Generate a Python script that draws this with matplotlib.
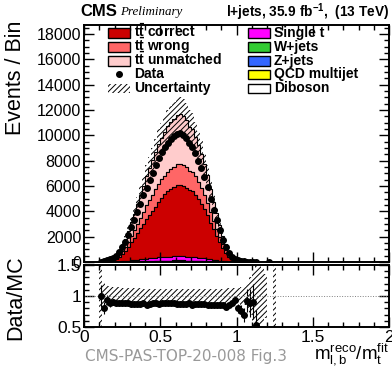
import matplotlib
matplotlib.use("Agg")
import matplotlib.pyplot as plt
import matplotlib.patches as mpatches
from matplotlib.ticker import MultipleLocator
import numpy as np

plt.rcParams['font.family'] = 'Liberation Sans'
plt.rcParams['mathtext.fontset'] = 'custom'
plt.rcParams['mathtext.rm'] = 'Liberation Sans'
plt.rcParams['mathtext.it'] = 'Liberation Sans:italic'
plt.rcParams['mathtext.bf'] = 'Liberation Sans:bold'
plt.rcParams['hatch.linewidth'] = 0.7

########
# data #
########

edges = np.round(np.arange(0.10, 1.3001, 0.02), 2)
centers = 0.5 * (edges[:-1] + edges[1:])

data = [30, 70, 130, 220, 330, 500, 780, 1150, 1600, 2150,
        2750, 3350, 3950, 4600, 5250, 5850, 6450, 7050, 7650, 8200,
        8650, 9050, 9400, 9700, 9950, 10100, 10200, 10050, 9750, 9400,
        9050, 8600, 8000, 7400, 6700, 5900, 4950, 4100, 3300, 2500,
        1750, 1150, 700, 400, 220, 120, 70, 40, 25, 15,
        10, 5, 0, 0, 0, 3, 0, 0, 0, 0]

tt_correct = [13, 38, 62, 110, 161, 247, 390, 575, 791, 1075,
              1438, 1751, 2088, 2432, 2744, 3129, 3410, 3685, 4030, 4380,
              4700, 4960, 5181, 5346, 5484, 5630, 5654, 5571, 5435, 5240,
              5201, 4943, 4598, 4253, 3851, 3430, 2878, 2384, 1930, 1462,
              988, 665, 396, 216, 112, 72, 44, 28, 13, 8,
              5, 4.5, 3, 2.5, 2, 0, 0, 1, 0, 0]

tt_wrong = [6, 16, 27, 48, 70, 107, 168, 248, 342, 430,
            530, 620, 726, 846, 955, 1088, 1186, 1282, 1360, 1420,
            1440, 1460, 1517, 1565, 1606, 1648, 1655, 1631, 1591, 1534,
            1508, 1433, 1333, 1233, 1117, 995, 835, 691, 560, 424,
            329, 222, 132, 72, 37, 24, 15, 9, 4, 3,
            2, 1.5, 1, 0.8, 0.6, 0, 0, 0.3, 0, 0]

tt_unmatched = [10, 30, 45, 83, 121, 186, 293, 433, 595, 810,
                1065, 1300, 1552, 1806, 2037, 2324, 2533, 2737, 2969, 3182,
                3288, 3440, 3572, 3686, 3780, 3883, 3900, 3842, 3749, 3500,
                3380, 3129, 2911, 2693, 2438, 2172, 1822, 1510, 1222, 925,
                663, 446, 264, 143, 76, 49, 30, 19, 9, 6,
                4, 3.4, 2, 1.7, 1.4, 0, 0, 0.7, 0, 0]

single_t = [1, 2, 4, 7, 10, 16, 25, 37, 50, 68,
            88, 107, 127, 160, 167, 190, 215, 224, 243, 261,
            275, 288, 310, 309, 317, 340, 326, 335, 314, 303,
            300, 277, 257, 238, 216, 192, 161, 133, 108, 82,
            58, 39, 23, 13, 7, 4, 3, 2, 1, 0,
            0, 0, 0, 0, 0, 0, 0, 0, 0, 0]

w_jets = [0, 0, 1, 1, 2, 3, 5, 7, 10, 14,
          18, 22, 26, 30, 35, 39, 43, 46, 50, 54,
          57, 60, 62, 64, 66, 67, 67, 66, 65, 63,
          60, 57, 53, 49, 44, 39, 33, 27, 22, 17,
          12, 8, 5, 3, 1, 1, 0, 0, 0, 0,
          0, 0, 0, 0, 0, 0, 0, 0, 0, 0]

z_jets = [0, 0, 0, 0, 1, 1, 1, 2, 3, 4,
          5, 6, 7, 9, 10, 11, 12, 13, 14, 15,
          16, 17, 18, 18, 19, 19, 19, 19, 18, 18,
          17, 16, 15, 14, 12, 11, 9, 8, 6, 5,
          3, 2, 1, 1, 0, 0, 0, 0, 0, 0,
          0, 0, 0, 0, 0, 0, 0, 0, 0, 0]

qcd = [0, 0, 1, 1, 2, 2, 3, 4, 6, 7,
       9, 10, 12, 14, 15, 18, 19, 21, 23, 25,
       26, 27, 29, 30, 30, 32, 31, 30, 30, 28,
       27, 26, 24, 22, 20, 18, 15, 12, 10, 7,
       5, 3, 2, 1, 1, 0, 0, 0, 0, 0,
       0, 0, 0, 0, 0, 0, 0, 0, 0, 0]

diboson = [0, 0, 0, 0, 0, 0, 1, 1, 1, 1,
           2, 2, 2, 2, 3, 3, 3, 3, 4, 4,
           4, 4, 4, 5, 5, 5, 5, 5, 5, 4,
           4, 4, 4, 4, 3, 3, 3, 2, 2, 2,
           1, 1, 1, 0, 0, 0, 0, 0, 0, 0,
           0, 0, 0, 0, 0, 0, 0, 0, 0, 0]

# relative MC uncertainty per bin
rel_unc = [0.6, 0.22, 0.18, 0.16, 0.15, 0.14, 0.14, 0.13, 0.13, 0.13,
           0.13, 0.125, 0.125, 0.125, 0.12, 0.12, 0.12, 0.12, 0.12, 0.12,
           0.12, 0.12, 0.12, 0.12, 0.12, 0.12, 0.12, 0.12, 0.12, 0.12,
           0.12, 0.12, 0.12, 0.12, 0.12, 0.12, 0.12, 0.12, 0.12, 0.12,
           0.12, 0.12, 0.125, 0.125, 0.13, 0.13, 0.14, 0.15, 0.2, 0.3,
           0.4, 0.5, 0.5, 0.45, 0.35, 0, 0, 1.0, 0, 0]

components = [diboson, qcd, z_jets, w_jets, single_t, tt_correct, tt_wrong, tt_unmatched]
colors = ['white', '#ffff00', '#3366ff', '#33cc33', '#ff00ff', '#cc0000', '#ff6666', '#ffcccc']

data = np.array(data, dtype=float)
rel_unc = np.array(rel_unc)
total = np.sum(np.array(components, dtype=float), axis=0)
unc = rel_unc * total

#################
# figure layout #
#################

W, H = 392, 373
fig = plt.figure(figsize=(W/100, H/100), dpi=100)
ax = fig.add_axes([84/W, 1-262/H, 305/W, 237/H])
rax = fig.add_axes([84/W, 1-327/H, 305/W, 62/H])

#############
# main plot #
#############

ax.hist([centers]*len(components), bins=edges, weights=components, stacked=True,
        histtype='stepfilled', color=colors, edgecolor='k', linewidth=0.8)

ax.bar(centers, 2*unc, bottom=total-unc, width=0.02, color='none',
       edgecolor='k', linewidth=0, hatch='//////')

m = data > 0
ax.errorbar(centers[m], data[m], yerr=np.sqrt(data[m]), fmt='o', ms=4,
            color='k', elinewidth=0.8, capsize=0)

ax.set_xlim(0, 2)
ax.set_ylim(0, 18700)
ax.yaxis.set_major_locator(MultipleLocator(2000))
ax.yaxis.set_minor_locator(MultipleLocator(500))
ax.xaxis.set_major_locator(MultipleLocator(0.5))
ax.xaxis.set_minor_locator(MultipleLocator(0.1))
ax.tick_params(which='both', direction='in', top=True, right=True, labelbottom=False,
               labelsize=11.5, width=1, pad=2)
ax.tick_params(which='major', length=7)
ax.tick_params(which='minor', length=3.5)
for s in ax.spines.values():
    s.set_linewidth(1.4)

##########
# legend #
##########

def fx(px):
    return px / W

def fy(py):
    return 1 - py / H

rows = [33, 47, 61, 74, 88]
left_entries = [('#cc0000', r'$\mathbf{t\bar{t}}$ correct'),
                ('#ff6666', r'$\mathbf{t\bar{t}}$ wrong'),
                ('#ffcccc', r'$\mathbf{t\bar{t}}$ unmatched'),
                ('data', 'Data'),
                ('unc', 'Uncertainty')]
right_entries = [('#ff00ff', 'Single t'), ('#33cc33', 'W+jets'), ('#3366ff', 'Z+jets'),
                 ('#ffff00', 'QCD multijet'), ('white', 'Diboson')]

for x0, entries in [(108, left_entries), (248, right_entries)]:
    for py, (kind, label) in zip(rows, entries):
        if kind == 'data':
            fig.add_artist(plt.Line2D([fx(x0+11)], [fy(py)], marker='o', ms=4, color='k',
                                      transform=fig.transFigure))
        elif kind == 'unc':
            fig.add_artist(mpatches.Rectangle((fx(x0), fy(py+4.5)), 22/W, 9/H,
                                              facecolor='white', edgecolor='k', lw=0,
                                              hatch='//////', transform=fig.transFigure))
        else:
            fig.add_artist(mpatches.Rectangle((fx(x0), fy(py+4.5)), 22/W, 9/H,
                                              facecolor=kind, edgecolor='k', lw=1,
                                              transform=fig.transFigure))
        fig.text(fx(x0+26), fy(py+4), label, fontsize=10, weight='bold', va='baseline')

##############
# ratio plot #
##############

ok = total > 0
rax.bar(centers[ok], 2*rel_unc[ok], bottom=1-rel_unc[ok], width=0.02, color='none',
        edgecolor='k', linewidth=0, hatch='//////')
rm = (total > 0) & (data > 0)
ratio = data[rm] / total[rm]
rerr = np.sqrt(data[rm]) / total[rm]
rax.errorbar(centers[rm], ratio, yerr=rerr, fmt='o', ms=4, color='k',
             elinewidth=0.8, capsize=0)
rax.axhline(1, color='grey', lw=0.7, ls=':')

rax.set_xlim(0, 2)
rax.set_ylim(0.5, 1.5)
rax.set_yticks([0.5, 1, 1.5])
rax.set_yticklabels(['0.5', '1', '1.5'])
rax.yaxis.set_minor_locator(MultipleLocator(0.1))
rax.set_xticks([0, 0.5, 1, 1.5, 2])
rax.set_xticklabels(['0', '0.5', '1', '1.5', '2'])
rax.xaxis.set_minor_locator(MultipleLocator(0.1))
rax.tick_params(which='both', direction='in', top=True, right=True, labelsize=12.5,
                width=1, pad=2)
rax.tick_params(which='major', length=7)
rax.tick_params(which='minor', length=3.5)
for s in rax.spines.values():
    s.set_linewidth(1.4)

#########
# texts #
#########

fig.text(fx(16), fy(21), 'Events / Bin', fontsize=15.5, rotation=90, ha='center', va='top')
fig.text(fx(16), fy(298), 'Data/MC', fontsize=15.5, rotation=90, ha='center', va='center')
fig.text(fx(80), fy(12), 'CMS', fontsize=12, weight='bold', va='center')
fig.text(fx(120), fy(12), 'Preliminary', fontsize=9.4, style='italic',
         family='Liberation Serif', va='center')
fig.text(fx(389), fy(12), r'l+jets, 35.9 fb$^{\mathbf{-1}}$,  (13 TeV)', fontsize=9.8,
         weight='bold', ha='right', va='center')
fig.text(fx(389), fy(354), r'$\mathregular{m^{reco}_{l,b}/m^{fit}_{t}}$', fontsize=13.5,
         ha='right', va='center')
fig.text(fx(85), fy(356), 'CMS-PAS-TOP-20-008 Fig.3', fontsize=11, color='#999999',
         family='DejaVu Sans', va='center')

plt.savefig('out.png', dpi=100)
plt.close()
